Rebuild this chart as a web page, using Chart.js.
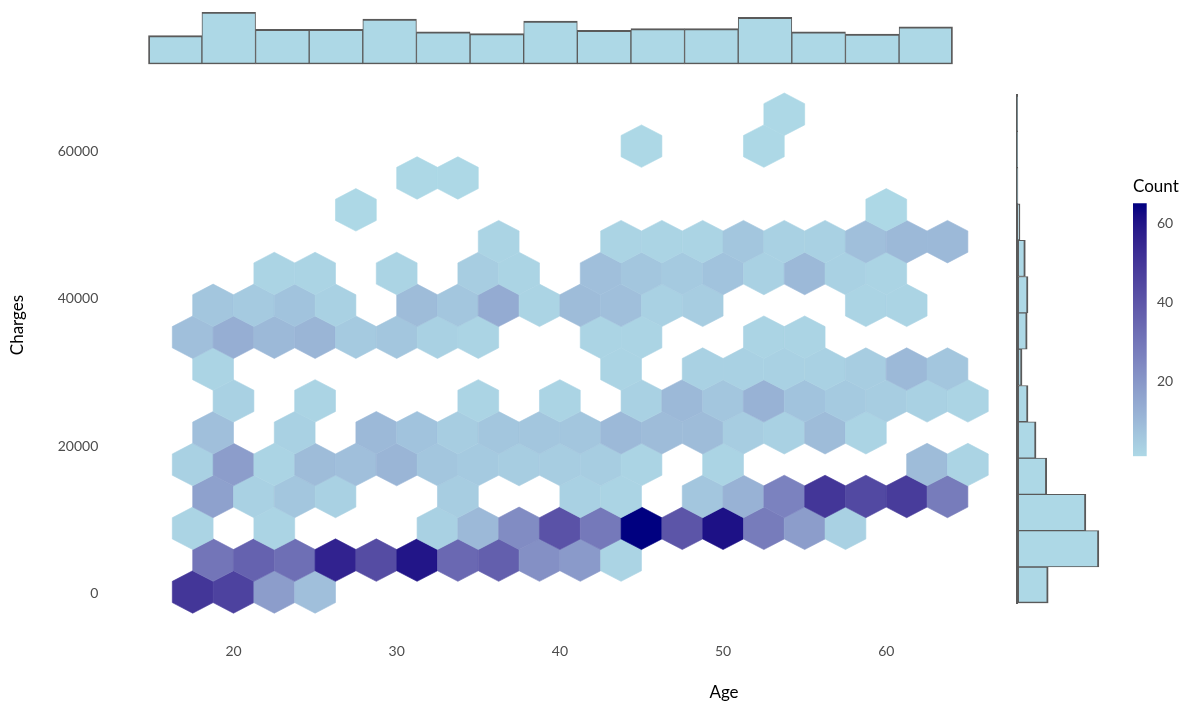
<!DOCTYPE html>
<html>
<head>
<meta charset="utf-8">
<script src="https://cdn.jsdelivr.net/npm/chart.js@4.4.1/dist/chart.umd.min.js"></script>
<style>
  body { margin: 0; background: #fff; font-family: Lato, "DejaVu Sans", sans-serif; }
  #wrap { position: relative; width: 1200px; height: 713px; overflow: hidden; }
  canvas { position: absolute; }
  .ttl { position: absolute; width: 120px; height: 22px; line-height: 22px; text-align: center; font-size: 17px; color: #000; }
</style>
</head>
<body>
<div id="wrap">
  <canvas id="main" width="1010" height="713" style="left:0;top:0"></canvas>
  <canvas id="topHist" width="809" height="59" style="left:146px;top:8px"></canvas>
  <canvas id="sideHist" width="100" height="513" style="left:1015px;top:93px"></canvas>
  <canvas id="legend" width="67" height="305" style="left:1133px;top:170px"></canvas>
  <div class="ttl" style="left:664px;top:681px">Age</div>
  <div class="ttl" style="left:-43px;top:314px;transform:rotate(-90deg)">Charges</div>
</div>
<script>
// hex bins: centre age, centre charges, number of people in the bin
var hexAge = [
  17.5, 20, 22.5, 25,
  18.75, 21.25, 23.75, 26.25, 28.75, 31.25, 33.75, 36.25, 38.75, 41.25, 43.75,
  17.5, 22.5, 32.5, 35, 37.5, 40, 42.5, 45, 47.5, 50, 52.5, 55, 57.5,
  18.75, 21.25, 23.75, 26.25, 33.75, 41.25, 43.75, 48.75, 51.25, 53.75, 56.25, 58.75, 61.25, 63.75,
  17.5, 20, 22.5, 25, 27.5, 30, 32.5, 35, 37.5, 40, 42.5, 45, 50, 62.5, 65,
  18.75, 23.75, 28.75, 31.25, 33.75, 36.25, 38.75, 41.25, 43.75, 46.25, 48.75, 51.25, 53.75, 56.25, 58.75,
  20, 25, 35, 40, 45, 47.5, 50, 52.5, 55, 57.5, 60, 62.5, 65,
  18.75, 43.75, 48.75, 51.25, 53.75, 56.25, 58.75, 61.25, 63.75,
  17.5, 20, 22.5, 25, 27.5, 30, 32.5, 35, 42.5, 45, 52.5, 55,
  18.75, 21.25, 23.75, 26.25, 31.25, 33.75, 36.25, 38.75, 41.25, 43.75, 46.25, 48.75, 58.75, 61.25,
  22.5, 25, 30, 35, 37.5, 42.5, 45, 47.5, 50, 52.5, 55, 57.5, 60,
  36.25, 43.75, 46.25, 48.75, 51.25, 53.75, 56.25, 58.75, 61.25, 63.75,
  27.5, 60,
  31.25, 33.75,
  45, 52.5,
  53.75
];
var hexCharges = [
  180, 180, 180, 180,
  4510, 4510, 4510, 4510, 4510, 4510, 4510, 4510, 4510, 4510, 4510,
  8830, 8830, 8830, 8830, 8830, 8830, 8830, 8830, 8830, 8830, 8830, 8830, 8830,
  13160, 13160, 13160, 13160, 13160, 13160, 13160, 13160, 13160, 13160, 13160, 13160, 13160, 13160,
  17490, 17490, 17490, 17490, 17490, 17490, 17490, 17490, 17490, 17490, 17490, 17490, 17490, 17490, 17490,
  21820, 21820, 21820, 21820, 21820, 21820, 21820, 21820, 21820, 21820, 21820, 21820, 21820, 21820, 21820,
  26150, 26150, 26150, 26150, 26150, 26150, 26150, 26150, 26150, 26150, 26150, 26150, 26150,
  30470, 30470, 30470, 30470, 30470, 30470, 30470, 30470, 30470,
  34800, 34800, 34800, 34800, 34800, 34800, 34800, 34800, 34800, 34800, 34800, 34800,
  39130, 39130, 39130, 39130, 39130, 39130, 39130, 39130, 39130, 39130, 39130, 39130, 39130, 39130,
  43460, 43460, 43460, 43460, 43460, 43460, 43460, 43460, 43460, 43460, 43460, 43460, 43460,
  47790, 47790, 47790, 47790, 47790, 47790, 47790, 47790, 47790, 47790,
  52110, 52110,
  56440, 56440,
  60770, 60770,
  65100
];
var hexCount = [
  50, 46, 18, 8,
  30, 36, 32, 56, 43, 60, 34, 37, 22, 19, 2,
  2, 2, 3, 10, 23, 41, 29, 65, 40, 61, 28, 18, 3,
  17, 3, 6, 3, 4, 3, 2, 6, 12, 26, 50, 44, 48, 28,
  3, 18, 2, 9, 8, 11, 6, 5, 4, 4, 4, 2, 2, 9, 2,
  8, 3, 10, 7, 4, 6, 6, 6, 10, 9, 9, 4, 3, 9, 2,
  3, 2, 2, 2, 3, 10, 6, 12, 7, 5, 4, 3, 2,
  2, 2, 3, 3, 3, 3, 4, 10, 6,
  8, 13, 10, 11, 5, 6, 3, 2, 2, 2, 2, 2,
  6, 5, 7, 3, 9, 6, 14, 2, 9, 8, 3, 4, 2, 2,
  2, 2, 2, 4, 2, 8, 6, 5, 7, 3, 10, 3, 2,
  2, 2, 2, 2, 6, 3, 3, 8, 10, 10,
  1, 1,
  1, 1,
  1, 1,
  1
];

// marginal histograms
var ageBins = ['16.4', '19.7', '23.0', '26.3', '29.6', '32.8', '36.1', '39.4', '42.7', '46.0', '49.3', '52.6', '55.8', '59.1', '62.4'];
var ageCounts = [69, 126, 84, 84, 109, 78, 74, 104, 82, 86, 86, 113, 78, 73, 90];
var chargeBins = ['1060', '5970', '10910', '15810', '20750', '25730', '30640', '35490', '40400', '45380', '50370', '55330', '60310', '65270'];
var chargeCounts = [150, 396, 333, 143, 91, 52, 23, 48, 52, 39, 13, 3, 2, 1];

var ageTicks = [20, 30, 40, 50, 60];
var chargeTicks = [0, 20000, 40000, 60000];
var countTicks = [20, 40, 60];

var HEX_W = 2.5;      // bin width in years
var HEX_R = 2887;     // vertical radius in charges
var LOW = Math.min.apply(null, hexCount);
var HIGH = Math.max.apply(null, hexCount);
var GREY = '#4d4d4d';
var EDGE = '#5a5a5a';
var FILL = '#add8e6';

Chart.defaults.font.family = 'Lato, "DejaVu Sans", sans-serif';
Chart.defaults.animation = false;
Chart.defaults.plugins.legend.display = false;
Chart.defaults.plugins.tooltip.enabled = false;

// lightblue -> navy, interpolated in CIELAB like ggplot's gradient
function toLab(hex) {
  var c = [1, 3, 5].map(function (i) {
    var v = parseInt(hex.substr(i, 2), 16) / 255;
    return v <= 0.04045 ? v / 12.92 : Math.pow((v + 0.055) / 1.055, 2.4);
  });
  var X = (0.4124 * c[0] + 0.3576 * c[1] + 0.1805 * c[2]) / 0.95047;
  var Y = 0.2126 * c[0] + 0.7152 * c[1] + 0.0722 * c[2];
  var Z = (0.0193 * c[0] + 0.1192 * c[1] + 0.9505 * c[2]) / 1.08883;
  var f = function (t) { return t > 0.008856 ? Math.cbrt(t) : 7.787 * t + 16 / 116; };
  return [116 * f(Y) - 16, 500 * (f(X) - f(Y)), 200 * (f(Y) - f(Z))];
}
function fromLab(L, a, b) {
  var fy = (L + 16) / 116, fx = fy + a / 500, fz = fy - b / 200;
  var inv = function (f) { return f * f * f > 0.008856 ? f * f * f : (f - 16 / 116) / 7.787; };
  var X = inv(fx) * 0.95047, Y = inv(fy), Z = inv(fz) * 1.08883;
  var rgb = [
    3.2406 * X - 1.5372 * Y - 0.4986 * Z,
    -0.9689 * X + 1.8758 * Y + 0.0415 * Z,
    0.0557 * X - 0.2040 * Y + 1.0570 * Z
  ].map(function (v) {
    v = v <= 0.0031308 ? 12.92 * v : 1.055 * Math.pow(v, 1 / 2.4) - 0.055;
    return Math.round(Math.max(0, Math.min(1, v)) * 255);
  });
  return 'rgb(' + rgb.join(',') + ')';
}
var labLow = toLab('#add8e6'), labHigh = toLab('#000080');
function countColor(n) {
  var t = (n - LOW) / (HIGH - LOW);
  return fromLab(labLow[0] + (labHigh[0] - labLow[0]) * t,
                 labLow[1] + (labHigh[1] - labLow[1]) * t,
                 labLow[2] + (labHigh[2] - labLow[2]) * t);
}

var hexPlugin = {
  id: 'hexbins',
  afterDatasetsDraw: function (chart) {
    var ctx = chart.ctx, x = chart.scales.x, y = chart.scales.y;
    ctx.save();
    hexAge.forEach(function (age, i) {
      var c = hexCharges[i], h = HEX_W / 2;
      var pts = [[age, c + HEX_R], [age + h, c + HEX_R / 2], [age + h, c - HEX_R / 2],
                 [age, c - HEX_R], [age - h, c - HEX_R / 2], [age - h, c + HEX_R / 2]];
      ctx.beginPath();
      pts.forEach(function (p, k) {
        var px = x.getPixelForValue(p[0]), py = y.getPixelForValue(p[1]);
        if (k) ctx.lineTo(px, py); else ctx.moveTo(px, py);
      });
      ctx.closePath();
      ctx.fillStyle = countColor(hexCount[i]);
      ctx.strokeStyle = ctx.fillStyle;
      ctx.lineWidth = 0.6;
      ctx.fill();
      ctx.stroke();
    });
    ctx.restore();
  }
};

new Chart(document.getElementById('main'), {
  type: 'scatter',
  data: {
    datasets: [{
      data: hexAge.map(function (a, i) { return { x: a, y: hexCharges[i] }; }),
      pointRadius: 0
    }]
  },
  options: {
    responsive: false,
    events: [],
    layout: { padding: { top: 78.2, right: 9.5, bottom: 0, left: 0 } },
    scales: {
      x: {
        type: 'linear', min: 15, max: 67,
        afterBuildTicks: function (s) { s.ticks = ageTicks.map(function (v) { return { value: v }; }); },
        afterFit: function (s) { s.height = 82.9; },
        grid: { display: false, drawTicks: false },
        border: { display: false },
        ticks: { color: GREY, font: { size: 14 }, padding: 13, callback: function (v) { return String(v); } }
      },
      y: {
        type: 'linear', min: -5000, max: 70000,
        afterBuildTicks: function (s) { s.ticks = chargeTicks.map(function (v) { return { value: v }; }); },
        afterFit: function (s) { s.width = 151.9; },
        grid: { display: false, drawTicks: false },
        border: { display: false },
        ticks: { color: GREY, font: { size: 14 }, padding: 53.6, callback: function (v) { return String(v); } }
      }
    }
  },
  plugins: [hexPlugin]
});

// top marginal: age histogram
new Chart(document.getElementById('topHist'), {
  type: 'bar',
  data: {
    labels: ageBins,
    datasets: [{
      data: ageCounts,
      backgroundColor: FILL,
      borderColor: EDGE,
      borderSkipped: false,
      borderWidth: function (c) {
        var last = ageCounts.length - 1;
        return { top: 2, bottom: 2, left: c.dataIndex === 0 ? 2 : 1, right: c.dataIndex === last ? 2 : 1 };
      },
      barPercentage: 1,
      categoryPercentage: 1
    }]
  },
  options: {
    responsive: false,
    events: [],
    layout: { padding: { left: 2.3, right: 2.3, top: 4, bottom: 2.7 } },
    scales: {
      x: { display: false },
      y: { display: false, min: 0, max: Math.max.apply(null, ageCounts) }
    }
  }
});

// right marginal: charges histogram
new Chart(document.getElementById('sideHist'), {
  type: 'bar',
  data: {
    labels: chargeBins,
    datasets: [{
      data: chargeCounts,
      backgroundColor: FILL,
      borderColor: EDGE,
      borderSkipped: false,
      borderWidth: function (c) {
        var last = chargeCounts.length - 1;
        return { left: 2, right: 2, bottom: c.dataIndex === 0 ? 2 : 1, top: c.dataIndex === last ? 2 : 1 };
      },
      barPercentage: 1,
      categoryPercentage: 1
    }]
  },
  options: {
    indexAxis: 'y',
    responsive: false,
    events: [],
    layout: { padding: { left: 2.3, right: 5, top: 2, bottom: 2.7 } },
    scales: {
      x: { display: false, min: 0, max: 450 },
      y: {
        reverse: true,
        afterFit: function (s) { s.width = 0; },
        grid: { display: false, drawTicks: false },
        ticks: { display: false },
        border: { display: true, color: EDGE, width: 2 }
      }
    }
  }
});

// colour bar for the count scale
new Chart(document.getElementById('legend'), {
  type: 'bar',
  data: {
    labels: [''],
    datasets: [{
      data: [[LOW, HIGH]],
      borderWidth: 0,
      barPercentage: 1,
      categoryPercentage: 1,
      backgroundColor: function (c) {
        var chart = c.chart;
        if (!chart.chartArea) return countColor(LOW);
        var ys = chart.scales.y;
        var g = chart.ctx.createLinearGradient(0, ys.getPixelForValue(LOW), 0, ys.getPixelForValue(HIGH));
        for (var i = 0; i <= 20; i++) g.addColorStop(i / 20, countColor(LOW + (HIGH - LOW) * i / 20));
        return g;
      }
    }]
  },
  options: {
    responsive: false,
    events: [],
    layout: { padding: { left: 0, right: 0, top: 0, bottom: 5 } },
    plugins: {
      title: {
        display: true, text: 'Count', align: 'start', color: '#000',
        font: { size: 17, weight: 'normal' }, padding: { top: 6.5, bottom: 6.4 }
      }
    },
    scales: {
      x: { display: false },
      y: {
        position: 'right', min: LOW, max: HIGH,
        afterBuildTicks: function (s) { s.ticks = countTicks.map(function (v) { return { value: v }; }); },
        afterFit: function (s) { s.width = 53.3; },
        grid: { display: false, drawTicks: false },
        border: { display: false },
        ticks: { color: GREY, font: { size: 14 }, padding: 10.3 }
      }
    }
  }
});
</script>
</body>
</html>
